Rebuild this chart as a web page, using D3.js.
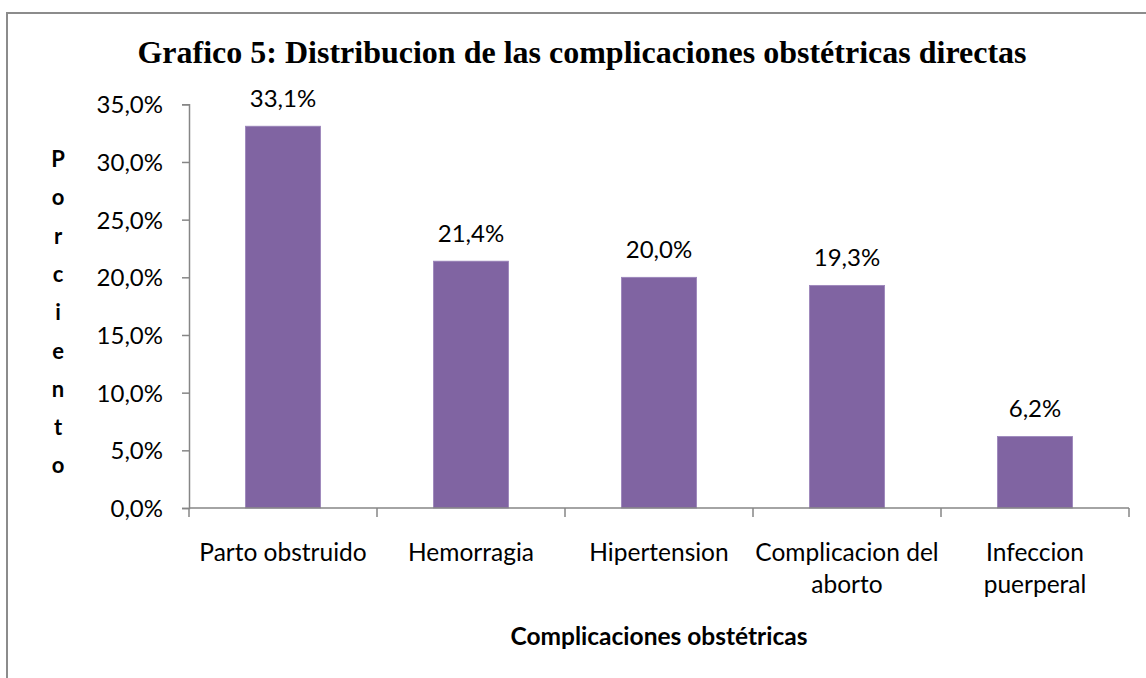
<!DOCTYPE html>
<html><head><meta charset="utf-8">
<script src="https://cdn.jsdelivr.net/npm/d3@7"></script>
<style>body{margin:0;background:#fff}svg{display:block}</style>
</head><body>
<svg id="c" width="1146" height="678"></svg>
<script>
const categories = [["Parto obstruido"], ["Hemorragia"], ["Hipertension"], ["Complicacion del", "aborto"], ["Infeccion", "puerperal"]];
const values = [33.1, 21.4, 20.0, 19.3, 6.2];
const yTicks = [0, 5, 10, 15, 20, 25, 30, 35];
const title = "Grafico 5: Distribucion de las complicaciones obstétricas directas";
const xTitle = "Complicaciones obstétricas";
const yTitle = "Porciento";

const svg = d3.select("#c");
const fmt = v => v.toFixed(1).replace(".", ",") + "%";
const sans = "Lato, 'Open Sans', sans-serif";

// outer frame
svg.append("rect").attr("x", 7).attr("y", 13).attr("width", 1200).attr("height", 800)
  .attr("fill", "none").attr("stroke", "#8c8c8c").attr("stroke-width", 2);

const m = {l: 189, r: 1129, t: 104.3, b: 508};
const x = d3.scaleBand().domain(categories.map((d, i) => i)).range([m.l, m.r]).paddingInner(0.6).paddingOuter(0.3);
const y = d3.scaleLinear().domain([0, 35]).range([m.b, m.t]);

// y axis
const ya = svg.append("g").attr("transform", `translate(${m.l},0)`)
  .call(d3.axisLeft(y).tickValues(yTicks).tickFormat(fmt).tickSize(7).tickPadding(19));
ya.select(".domain").attr("stroke", "#868686").attr("stroke-width", 1.5);
ya.selectAll(".tick line").attr("stroke", "#868686").attr("stroke-width", 1.5);
ya.selectAll(".tick text").attr("font-family", sans).attr("font-size", 24).attr("fill", "#000").attr("dy", "0.36em");

// bars
svg.selectAll("rect.bar").data(values).enter().append("rect").attr("class", "bar")
  .attr("x", (d, i) => x(i)).attr("width", x.bandwidth())
  .attr("y", d => y(d)).attr("height", d => y(0) - y(d))
  .attr("fill", "#8064A2").attr("stroke", "#9b85bb").attr("stroke-width", 0.8);

// data labels
svg.selectAll("text.lab").data(values).enter().append("text").attr("class", "lab")
  .attr("x", (d, i) => x(i) + x.bandwidth() / 2).attr("y", d => y(d) - 19)
  .attr("text-anchor", "middle").attr("font-family", sans).attr("font-size", 24).attr("fill", "#000")
  .text(fmt);

// x axis
const bounds = d3.range(categories.length + 1).map(i => m.l + i * (m.r - m.l) / categories.length);
svg.append("line").attr("x1", m.l).attr("x2", m.r).attr("y1", m.b).attr("y2", m.b)
  .attr("stroke", "#868686").attr("stroke-width", 1.5);
svg.selectAll("line.xt").data(bounds).enter().append("line").attr("class", "xt")
  .attr("x1", d => d).attr("x2", d => d).attr("y1", m.b).attr("y2", m.b + 9)
  .attr("stroke", "#868686").attr("stroke-width", 1.5);

svg.selectAll("text.cat").data(categories).enter().append("text").attr("class", "cat")
  .attr("font-family", sans).attr("font-size", 24.5).attr("fill", "#000").attr("text-anchor", "middle")
  .each(function(d, i) {
    const t = d3.select(this);
    d.forEach((line, k) => t.append("tspan").attr("x", x(i) + x.bandwidth() / 2).attr("y", 561 + k * 32).text(line));
  });

// titles
svg.append("text").attr("x", 582).attr("y", 63).attr("text-anchor", "middle")
  .attr("font-family", "'Liberation Serif', 'Times New Roman', serif").attr("font-weight", "bold")
  .attr("font-size", 32).attr("fill", "#000").text(title);

svg.append("text").attr("x", 659).attr("y", 645).attr("text-anchor", "middle")
  .attr("font-family", sans).attr("font-weight", "bold").attr("font-size", 24.5).attr("fill", "#000").text(xTitle);

svg.selectAll("text.yt").data(yTitle.split("")).enter().append("text").attr("class", "yt")
  .attr("x", 58).attr("y", (d, i) => 167 + i * 38.3).attr("text-anchor", "middle")
  .attr("font-family", sans).attr("font-weight", "bold").attr("font-size", 22).attr("fill", "#000").text(d => d);
</script>
</body></html>
